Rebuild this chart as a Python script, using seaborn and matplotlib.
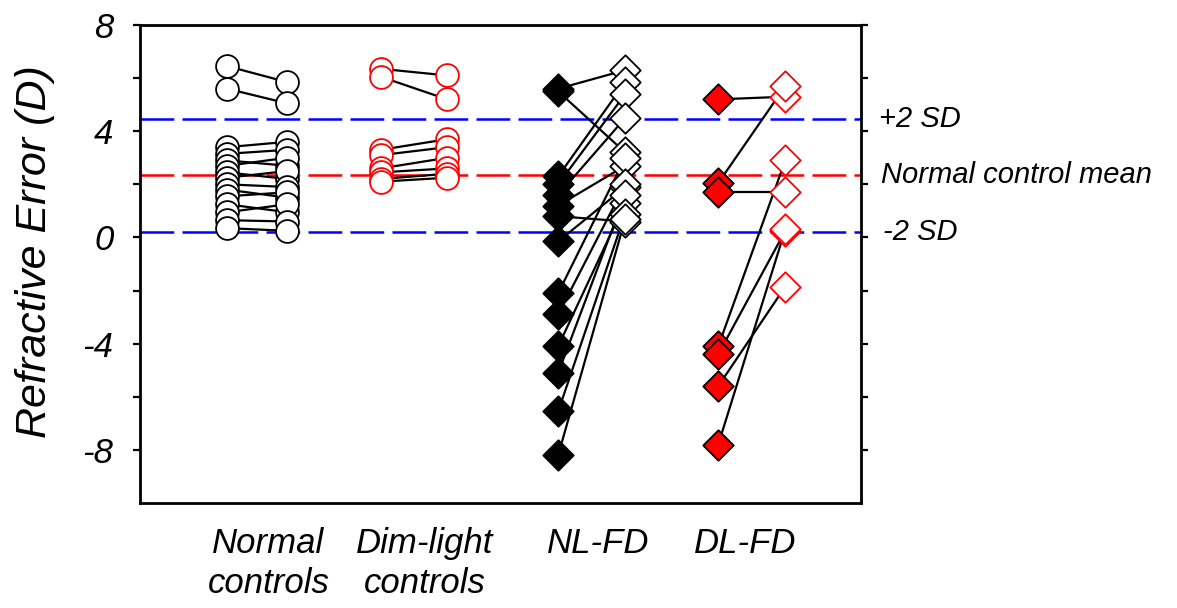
import matplotlib
matplotlib.use("Agg")
import matplotlib.pyplot as plt
import numpy as np
import pandas as pd
import seaborn as sns

# ---------------- data ----------------
groups = ["Normal\ncontrols", "Dim-light\ncontrols", "NL-FD", "DL-FD"]

normal_before = [6.45, 5.6, 3.4, 3.15, 2.9, 2.7, 2.45, 2.25, 2.0, 1.8, 1.55, 1.25, 0.95, 0.65, 0.35]
normal_after = [5.85, 5.05, 3.6, 3.3, 2.7, 3.0, 2.2, 2.5, 1.9, 1.5, 1.7, 0.95, 1.25, 0.6, 0.25]

dim_before = [6.35, 6.05, 3.3, 3.1, 2.6, 2.45, 2.2, 2.1]
dim_after = [6.1, 5.2, 3.7, 3.4, 3.0, 2.6, 2.4, 2.25]

nlfd_before = [5.6, 5.5, 2.3, 2.0, 1.6, 1.2, 0.8, -0.15, -2.1, -2.9, -4.1, -5.1, -6.55, -8.2]
nlfd_after = [6.3, 3.2, 5.85, 5.4, 4.5, 2.7, 0.6, 1.9, 3.0, 2.0, 1.3, 1.6, 0.9, 0.7]

dlfd_before = [5.2, 2.05, 1.7, -4.1, -4.4, -5.6, -7.8]
dlfd_after = [5.3, 5.7, 1.7, 2.9, 0.25, -1.85, 0.3]

mean_value = 2.35
sd_plus = 4.45
sd_minus = 0.22
ref_labels = ["+2 SD", "Normal control mean", "-2 SD"]

ytick_vals = [-8, -4, 0, 4, 8]
ytick_labels = ["-8", "-4", "0", "4", "8"]

# ---------------- layout (positions on the x axis) ----------------
x_pos = {
    groups[0]: (1.21, 2.04),
    groups[1]: (3.34, 4.26),
    groups[2]: (5.80, 6.73),
    groups[3]: (8.02, 8.95),
}
label_pos = [1.78, 3.95, 6.35, 8.39]

series = {
    groups[0]: (normal_before, normal_after),
    groups[1]: (dim_before, dim_after),
    groups[2]: (nlfd_before, nlfd_after),
    groups[3]: (dlfd_before, dlfd_after),
}

rows = []
sid = 0
for g in groups:
    b, a = series[g]
    for vb, va in zip(b, a):
        rows.append(dict(group=g, subject=sid, phase="before", x=x_pos[g][0], value=vb))
        rows.append(dict(group=g, subject=sid, phase="after", x=x_pos[g][1], value=va))
        sid += 1
df = pd.DataFrame(rows)

# ---------------- figure ----------------
sns.set_style("white")
plt.rcParams["font.family"] = ["Liberation Sans", "DejaVu Sans"]
plt.rcParams["font.style"] = "italic"
plt.rcParams["text.color"] = "black"
plt.rcParams["axes.labelcolor"] = "black"
plt.rcParams["xtick.color"] = "black"
plt.rcParams["ytick.color"] = "black"

fig = plt.figure(figsize=(11.77, 6.08), dpi=100)
ax = fig.add_axes([140 / 1177, 1 - 503 / 608, (861 - 140) / 1177, (503 - 25) / 608])

# connecting lines
sns.lineplot(data=df, x="x", y="value", units="subject", estimator=None,
             color="black", linewidth=1.6, sort=False, ax=ax, zorder=2, legend=False)

# reference lines
for yv, col in [(sd_plus, "#0000ff"), (mean_value, "#ff0000"), (sd_minus, "#0000ff")]:
    ax.axhline(yv, color=col, linewidth=1.8, dashes=(13.5, 3.3), zorder=1.5)

# markers
styles = {
    (groups[0], "before"): dict(marker="o", s=270, facecolor="white", edgecolor="black"),
    (groups[0], "after"): dict(marker="o", s=270, facecolor="white", edgecolor="black"),
    (groups[1], "before"): dict(marker="o", s=270, facecolor="white", edgecolor="#ff0000"),
    (groups[1], "after"): dict(marker="o", s=270, facecolor="white", edgecolor="#ff0000"),
    (groups[2], "before"): dict(marker="D", s=240, facecolor="black", edgecolor="black"),
    (groups[2], "after"): dict(marker="D", s=240, facecolor="white", edgecolor="black"),
    (groups[3], "before"): dict(marker="D", s=240, facecolor="#ff0000", edgecolor="black"),
    (groups[3], "after"): dict(marker="D", s=240, facecolor="white", edgecolor="#ff0000"),
}
for (g, ph), st in styles.items():
    sub = df[(df.group == g) & (df.phase == ph)]
    sns.scatterplot(data=sub, x="x", y="value", marker=st["marker"], s=st["s"],
                    color=st["facecolor"], edgecolor=st["edgecolor"], linewidth=1.3,
                    ax=ax, zorder=3, legend=False)

# axes
ax.set_xlim(0, 10)
ax.set_ylim(-10, 8)
ax.set_xticks(label_pos)
ax.set_xticklabels(groups, fontsize=25, style="italic", linespacing=1.3, color="black")
ax.set_yticks(ytick_vals)
ax.set_yticklabels(ytick_labels, fontsize=25, style="italic", color="black")
ax.set_yticks([-6, -2, 2, 6], minor=True)
ax.tick_params(axis="x", length=0, pad=17)
ax.tick_params(axis="y", which="both", direction="out", length=5, width=1.6,
               right=True, labelright=False, left=True, pad=14, color="black")
ax.set_xlabel("")
ax.set_ylabel("Refractive Error (D)", fontsize=31, style="italic", labelpad=20, color="black")
ax.yaxis.label.set_y(0.525)
for sp in ax.spines.values():
    sp.set_visible(True)
    sp.set_linewidth(2)
    sp.set_color("black")

# right-side labels
trans = matplotlib.transforms.blended_transform_factory(ax.transAxes, ax.transData)
for yv, txt, dx in [(sd_plus, ref_labels[0], 1.025), (mean_value, ref_labels[1], 1.028),
                    (sd_minus, ref_labels[2], 1.03)]:
    ax.text(dx, yv, txt, transform=trans, fontsize=21, style="italic",
            ha="left", va="center", color="black")

fig.savefig("out.png", dpi=100)
